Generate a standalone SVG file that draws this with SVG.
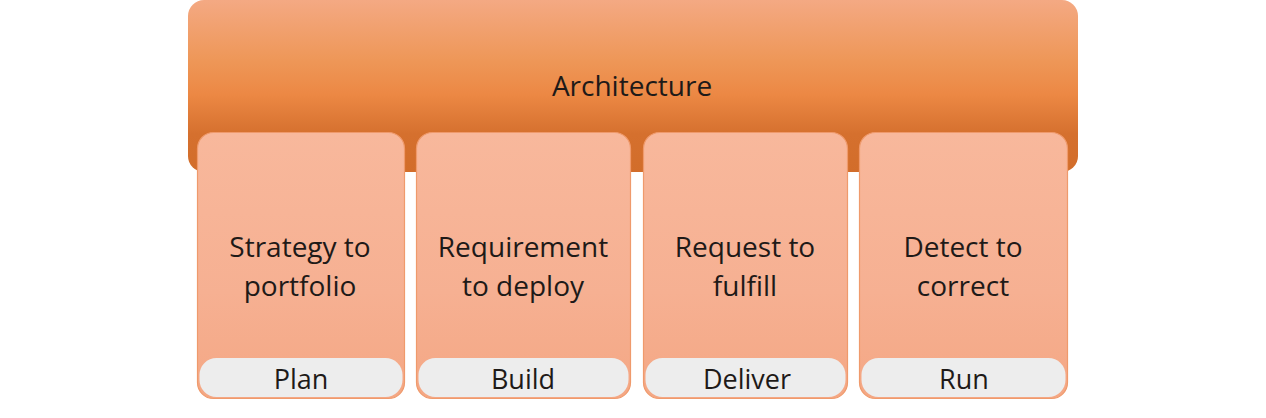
<svg xmlns="http://www.w3.org/2000/svg" width="1266" height="418" viewBox="0 0 1266 418">
<defs>
<linearGradient id="gTop" x1="0" y1="0" x2="0" y2="1">
<stop offset="0" stop-color="#F4A983"/>
<stop offset="0.35" stop-color="#EE9758"/>
<stop offset="0.55" stop-color="#EC8844"/>
<stop offset="0.78" stop-color="#D5702E"/>
<stop offset="1" stop-color="#D26D2A"/>
</linearGradient>
<linearGradient id="gCol" x1="0" y1="0" x2="0" y2="1">
<stop offset="0" stop-color="#F8B89C"/>
<stop offset="0.6" stop-color="#F6B092"/>
<stop offset="1" stop-color="#F4A784"/>
</linearGradient>
</defs>
<style>
.col{fill:url(#gCol);stroke:#EF9A6C;stroke-width:1.2}
.pill{fill:#EDEDED}
.t{font-family:"Open Sans","Liberation Sans",sans-serif;fill:#1E1A18;text-anchor:middle}
.big{font-size:28px}
.lbl{font-size:27px}
</style>
<rect width="1266" height="418" fill="#FFFFFF"/>
<g id="architecture">
<rect x="188" y="0" width="890" height="172" rx="16" ry="16" fill="url(#gTop)"/>
<text class="t big" x="632" y="96">Architecture</text>
</g>
<g id="plan">
<rect class="col" x="197.5" y="132.5" width="207" height="266" rx="16" ry="16"/>
<rect class="pill" x="199.5" y="358" width="203" height="39" rx="17" ry="17"/>
<text class="t big" x="300" y="257">Strategy to</text>
<text class="t big" x="300" y="296">portfolio</text>
<text class="t lbl" x="301" y="389">Plan</text>
</g>
<g id="build">
<rect class="col" x="416.5" y="132.5" width="214" height="266" rx="16" ry="16"/>
<rect class="pill" x="418.5" y="358" width="210" height="39" rx="17" ry="17"/>
<text class="t big" x="523" y="257">Requirement</text>
<text class="t big" x="523" y="296">to deploy</text>
<text class="t lbl" x="523" y="389">Build</text>
</g>
<g id="deliver">
<rect class="col" x="643.5" y="132.5" width="204" height="266" rx="16" ry="16"/>
<rect class="pill" x="645.5" y="358" width="200" height="39" rx="17" ry="17"/>
<text class="t big" x="745" y="257">Request to</text>
<text class="t big" x="745" y="296">fulfill</text>
<text class="t lbl" x="747" y="389">Deliver</text>
</g>
<g id="run">
<rect class="col" x="859.5" y="132.5" width="208" height="266" rx="16" ry="16"/>
<rect class="pill" x="861.5" y="358" width="204" height="39" rx="17" ry="17"/>
<text class="t big" x="963" y="257">Detect to</text>
<text class="t big" x="963" y="296">correct</text>
<text class="t lbl" x="964" y="389">Run</text>
</g>
<g id="connectors"/>
</svg>
